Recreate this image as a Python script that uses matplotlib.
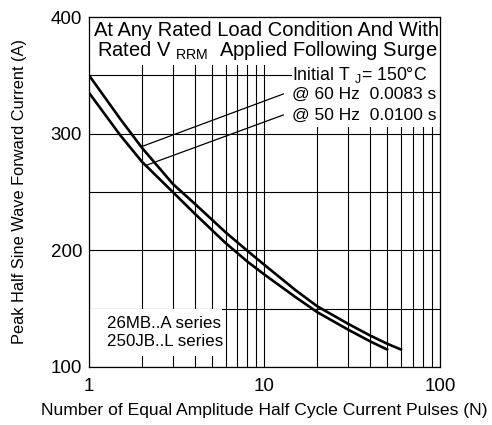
import matplotlib
matplotlib.use("Agg")
import matplotlib.pyplot as plt
from matplotlib.ticker import MultipleLocator, LogLocator, NullFormatter
from matplotlib.patches import Rectangle

plt.rcParams["font.family"] = ["Liberation Sans", "DejaVu Sans"]
plt.rcParams["mathtext.fontset"] = "custom"
plt.rcParams["mathtext.rm"] = "Liberation Sans"

# ── data ─────────────────────────────────────────────
n_60 = [1, 1.5, 2, 3, 4, 5, 6, 8, 10, 15, 20, 30, 40, 50, 60]
i_60 = [350, 313, 288, 257, 240, 226.5, 215.5, 199.5, 187.5, 166, 152, 137, 127, 120, 115]
n_50 = [1, 1.5, 2, 3, 4, 5, 6, 8, 10, 15, 20, 30, 40, 50]
i_50 = [335, 299, 276, 250, 231.5, 217.6, 206.3, 190.3, 179.2, 160, 147, 132, 122, 115]

x_ticks = [1, 10, 100]
x_labels = ["1", "10", "100"]
y_ticks = [100, 200, 300, 400]

fig = plt.figure(figsize=(4.92, 4.25), dpi=100)
ax = fig.add_axes([0.181, 0.1365, 0.713, 0.8235])

ax.set_xscale("log")
ax.set_xlim(1, 100)
ax.set_ylim(100, 400)
ax.set_xticks(x_ticks, x_labels)
ax.xaxis.set_minor_locator(LogLocator(base=10, subs=range(2, 10)))
ax.xaxis.set_minor_formatter(NullFormatter())
ax.set_yticks(y_ticks)
ax.yaxis.set_minor_locator(MultipleLocator(50))
ax.tick_params(which="both", length=0, labelsize=13.5)
ax.tick_params(axis="x", pad=8)
ax.tick_params(axis="y", pad=5)
ax.grid(which="both", color="black", linewidth=0.8)
ax.set_axisbelow(True)
for s in ax.spines.values():
    s.set_linewidth(0.9)

# white boxes over the grid
ax.add_patch(Rectangle((1, 359), 99, 41, facecolor="white", edgecolor="none", zorder=2))
ax.add_patch(Rectangle((14.3, 306), 85.7, 53, facecolor="white", edgecolor="none", zorder=2))
ax.add_patch(Rectangle((1, 109), 4.7, 41, facecolor="white", edgecolor="none", zorder=2))

# short ticks along the top edge
top = ax.secondary_xaxis("top")
top.set_xticks(x_ticks, ["", "", ""])
top.xaxis.set_minor_locator(LogLocator(base=10, subs=range(2, 10)))
top.xaxis.set_minor_formatter(NullFormatter())
top.tick_params(which="both", direction="in", length=5, width=0.8)

ax.plot(n_60, i_60, color="black", linewidth=1.9, zorder=4)
ax.plot(n_50, i_50, color="black", linewidth=1.9, zorder=4)

# pointer lines to the labels
ax.plot([2.0, 12.8], [289, 334], color="black", linewidth=0.9, zorder=4)
ax.plot([2.13, 12.8], [273, 316], color="black", linewidth=0.9, zorder=4)

ax.text(0.507, 0.962, "At Any Rated Load Condition And With", transform=ax.transAxes,
        ha="center", va="center", fontsize=14.5, zorder=5)
ax.text(0.507, 0.905, r"Rated V $_{\mathrm{RRM}}$  Applied Following Surge", transform=ax.transAxes,
        ha="center", va="center", fontsize=14.5, zorder=5)
ax.text(0.965, 0.834, r"Initial T $_{\mathrm{J}}$= 150°C", transform=ax.transAxes,
        ha="right", va="center", fontsize=12.8, zorder=5)
ax.text(0.99, 0.78, "@ 60 Hz  0.0083 s", transform=ax.transAxes,
        ha="right", va="center", fontsize=12.5, zorder=5)
ax.text(0.99, 0.72, "@ 50 Hz  0.0100 s", transform=ax.transAxes,
        ha="right", va="center", fontsize=12.5, zorder=5)

ax.text(0.051, 0.125, "26MB..A series", transform=ax.transAxes,
        ha="left", va="center", fontsize=12.2, zorder=5)
ax.text(0.051, 0.072, "250JB..L series", transform=ax.transAxes,
        ha="left", va="center", fontsize=12.2, zorder=5)

ax.set_ylabel("Peak Half Sine Wave Forward Current (A)", fontsize=11.8, labelpad=17)
ax.set_xlabel("Number of Equal Amplitude Half Cycle Current Pulses (N)", fontsize=12.6, labelpad=6)

fig.savefig("out.png", dpi=100)
